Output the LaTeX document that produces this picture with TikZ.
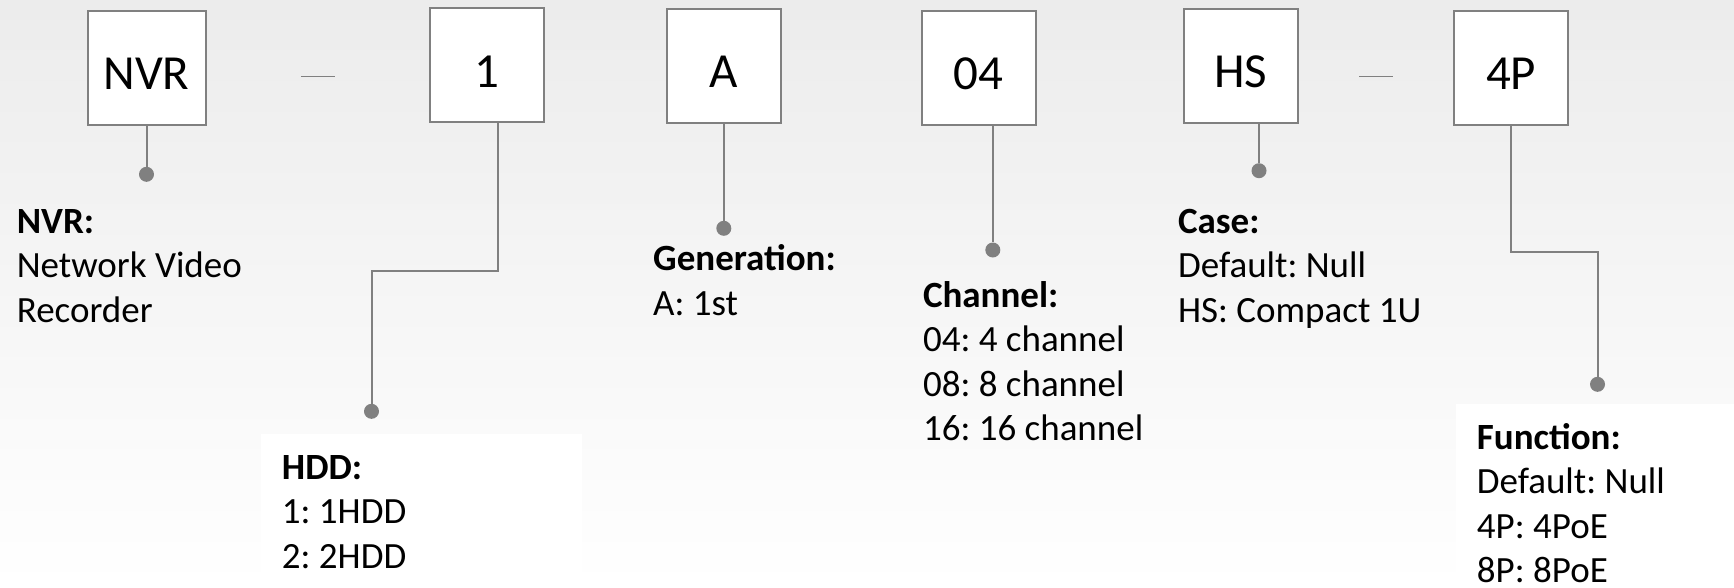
\documentclass[tikz,border=0pt]{standalone}
\usepackage{fontspec}
\setmainfont{Carlito}
\usepackage{tikz}
\usetikzlibrary{positioning,calc}
\usepackage{xcolor}
\definecolor{linegray}{RGB}{128,128,128}
\frenchspacing

\begin{document}
\begin{tikzpicture}[x=1pt,y=-1pt,
  code/.style={draw=linegray,line width=2pt,fill=white,minimum width=114pt,minimum height=114pt,inner sep=0pt,text height=44pt,text depth=0pt,font=\fontsize{49}{58}\selectfont},
  pin/.style={circle,fill=linegray,minimum size=15pt,inner sep=0pt},
  desc/.style={anchor=base west,align=left,inner sep=0pt,font=\fontsize{37}{44.5}\selectfont},
  link/.style={draw=linegray,line width=2pt},
  sep/.style={draw=linegray,line width=1.3pt}]
\shade[top color=gray!15,bottom color=white] (0,0) rectangle (1734,587);
\useasboundingbox (0,0) rectangle (1734,587);
\fill[white] (261,434) rectangle (582,587);
\fill[white] (1456,404) rectangle (1734,587);

% code boxes
\node[code,minimum width=118pt] (nvr) at (146.5,67.5) {NVR};
\node[code] (hdd) at (487,65) {1};
\node[code] (gen) at (723.8,65.5) {A};
\node[code] (chn) at (978.6,67.5) {04};
\node[code] (case) at (1240.8,65.7) {HS};
\node[code] (func) at (1511.2,67.5) {4P};
\draw[sep] ($(nvr.east)!0.5!(hdd.west)+(-17,10)$) -- +(34,0);
\draw[sep] ($(case.east)!0.5!(func.west)+(-17,10)$) -- +(34,0);

% pins
\node[pin] (dnvr) at (146.5,174.3) {};
\node[pin] (dhdd) at (371.5,411.3) {};
\node[pin] (dgen) at (723.8,228.3) {};
\node[pin] (dchn) at (992.8,250) {};
\node[pin] (dcase) at (1259,170.7) {};
\node[pin] (dfunc) at (1597.5,384.3) {};
\coordinate (khdd) at (498,270.7);
\coordinate (kfunc) at (1511.2,251.7);

\draw[link] (nvr) -- (dnvr);
\draw[link] (hdd.south -| khdd) -- (khdd) -| (dhdd);
\draw[link] (gen) -- (dgen);
\draw[link] (chn.south -| dchn) -- (dchn);
\draw[link] (case.south -| dcase) -- (dcase);
\draw[link] (func.south -| kfunc) -- (kfunc) -| (dfunc);

% descriptions (placed by the baseline of their last line)
\node[desc] (lnvr) at (16.6,322.3) {\textbf{NVR:}\\Network Video\\Recorder};
\node[desc] (lhdd) at (281.7,568) {\textbf{HDD:}\\1: 1HDD\\2: 2HDD};
\node[desc] (lgen) at (653,315.2) {\textbf{Generation:}\\A: 1st};
\node[desc] (lchn) at (922.8,440.8) {\textbf{Channel:}\\04: 4 channel\\08: 8 channel\\16: 16 channel};
\node[desc] (lcase) at (1177.9,322.3) {\textbf{Case:}\\Default: Null\\HS: Compact 1U};
\node[desc] (lfunc) at (1476.7,582.5) {\textbf{Function:}\\Default: Null\\4P: 4PoE\\8P: 8PoE};
\end{tikzpicture}
\end{document}
